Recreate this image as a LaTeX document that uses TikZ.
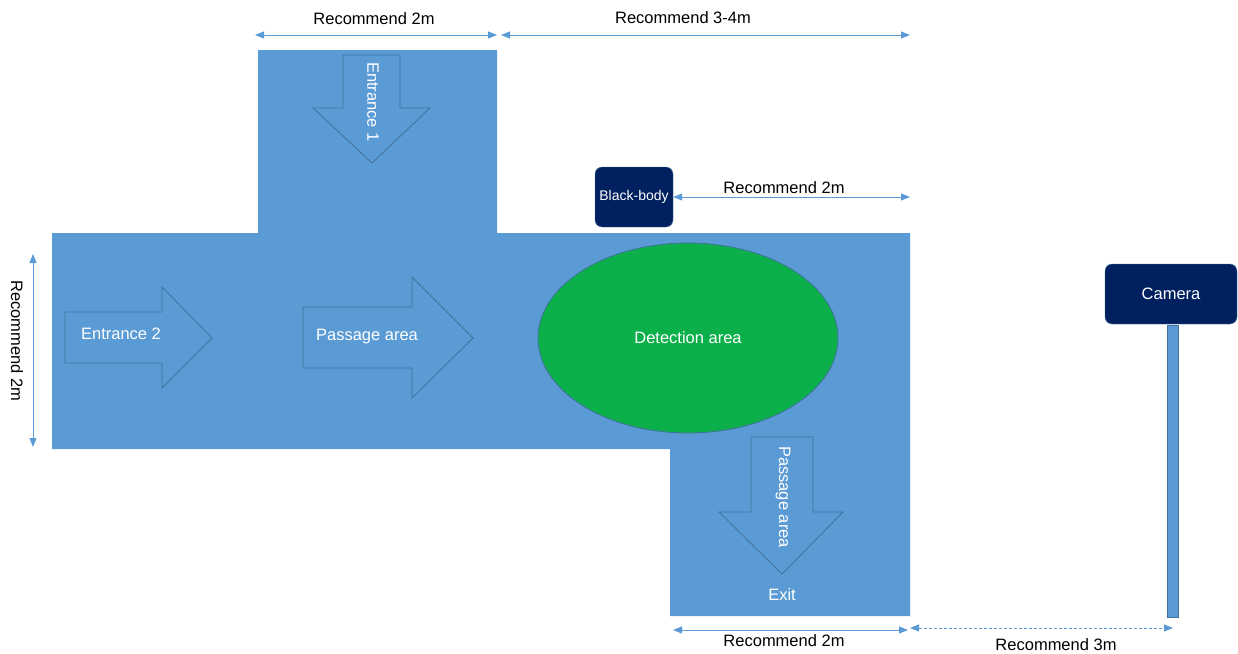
\documentclass[tikz,border=0pt]{standalone}
\usepackage{fontspec}
\setmainfont{Liberation Sans}
\usetikzlibrary{arrows.meta,shapes.geometric}
\definecolor{floorblue}{HTML}{5B9BD5}
\definecolor{edgeblue}{HTML}{41719C}
\definecolor{zonegreen}{HTML}{0BB04B}
\definecolor{navy}{HTML}{002060}

\begin{document}
\begin{tikzpicture}[x=1pt,y=-1pt]
        %
        % `floor' is the walkable area, `flow' the hollow direction arrows.
        % `dim' is used for the measuring arrows, `tag' for their texts.
        % `device' is used for the black-body and the camera.
        \tikzstyle{floor} = [fill=floorblue]
        \tikzstyle{flow} = [draw=edgeblue,line width=0.8pt]
        \tikzstyle{inside} = [text=white,font=\fontsize{16.5}{19}\selectfont]
        \tikzstyle{tag} = [text=black,font=\fontsize{16.5}{19}\selectfont]
        \tikzstyle{device} = [fill=navy,draw=edgeblue,rounded corners=2.5mm,text=white]
        \tikzstyle{dim} = [floorblue,line width=0.9pt,{Triangle[length=9pt,width=7pt]}-{Triangle[length=9pt,width=7pt]}]
        %
        \useasboundingbox (0,0) rectangle (1238,653);
        %
        % Floor
        \fill[floor] (258,50) -- (497,50) -- (497,233) -- (910,233) -- (910,616)
          -- (670,616) -- (670,449) -- (52,449) -- (52,233) -- (258,233) -- cycle;
        %
        % Entrance 1
        \draw[flow] (343,55) -- (400,55) -- (400,108) -- (430,108) -- (372,163)
          -- (313,108) -- (343,108) -- cycle;
        \node[inside,rotate=-90] (entry1) at (373,102) {Entrance 1};
        %
        % Entrance 2
        \draw[flow] (65,312) -- (162,312) -- (162,287) -- (212,338) -- (162,388)
          -- (162,363) -- (65,363) -- cycle;
        \node[inside] (entry2) at (121,334) {Entrance 2};
        %
        % Passage area
        \draw[flow] (303,307) -- (412,307) -- (412,277) -- (473,338) -- (412,398)
          -- (412,368) -- (303,368) -- cycle;
        \node[inside] (pass1) at (367,337) {Passage area};
        %
        % Detection area
        \node[ellipse,fill=zonegreen,draw=edgeblue,line width=0.8pt,
          minimum width=300pt,minimum height=190pt,inside] (detect) at (688,338) {Detection area};
        %
        % Exit
        \draw[flow] (751,437) -- (813,437) -- (813,512) -- (843,512) -- (782,574)
          -- (719,512) -- (751,512) -- cycle;
        \node[inside,rotate=-90] (pass2) at (783,497) {Passage area};
        \node[inside] (exit) at (782,595) {Exit};
        %
        % Black-body and camera
        \node[device,minimum width=78pt,minimum height=60pt,inner sep=0pt,
          font=\fontsize{14}{16}\selectfont] (blackbody) at (634,197) {Black-body};
        \node[device,minimum width=132pt,minimum height=60pt,
          font=\fontsize{16.5}{19}\selectfont] (camera) at (1171,294) {Camera};
        \node[fill=floorblue,draw=edgeblue,line width=0.6pt,inner sep=0pt,
          minimum width=11pt,minimum height=292pt,anchor=north] (pole) at (1173,324.5) {};
        %
        % Measuring arrows
        \coordinate (top1a) at (255,35);
        \coordinate (top1b) at (497,35);
        \coordinate (top2a) at (501,35);
        \coordinate (top2b) at (910,35);
        \coordinate (bbend) at (910,197);
        \coordinate (left1a) at (33,254);
        \coordinate (left1b) at (33,447);
        \coordinate (bot1a) at (673,630);
        \coordinate (bot1b) at (908,630);
        \coordinate (bot2a) at (910,628);
        \coordinate (bot2b) at (pole.center |- bot2a);
        \draw[dim] (top1a) -- (top1b);
        \draw[dim] (top2a) -- (top2b);
        \draw[dim] (blackbody.east) -- (bbend);
        \draw[dim] (left1a) -- (left1b);
        \draw[dim] (bot1a) -- (bot1b);
        \draw[dim,dash pattern=on 3pt off 2pt] (bot2a) -- (bot2b);
        %
        \node[tag] (len1) at (374,19) {Recommend 2m};
        \node[tag] (len2) at (683,18) {Recommend 3-4m};
        \node[tag] (len3) at (784,188) {Recommend 2m};
        \node[tag,rotate=-90] (len4) at (17,341) {Recommend 2m};
        \node[tag] (len5) at (784,641) {Recommend 2m};
        \node[tag] (len6) at (1056,645) {Recommend 3m};
        %
\end{tikzpicture}
\end{document}
